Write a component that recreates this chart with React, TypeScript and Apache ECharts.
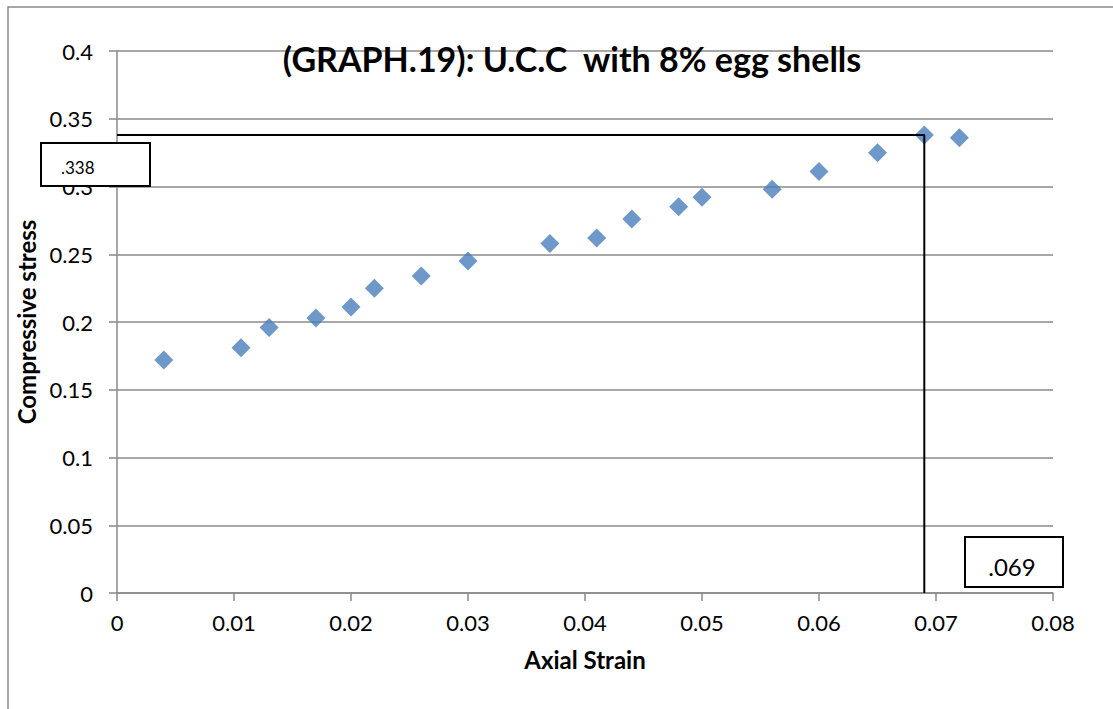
import React, { useEffect, useRef } from "react";
import * as echarts from "echarts";

const strain = [0.004, 0.0106, 0.013, 0.017, 0.02, 0.022, 0.026, 0.03, 0.037, 0.041, 0.044, 0.048, 0.05, 0.056, 0.06, 0.065, 0.069, 0.072];
const stress = [0.172, 0.181, 0.196, 0.203, 0.211, 0.225, 0.234, 0.245, 0.258, 0.262, 0.276, 0.285, 0.292, 0.298, 0.311, 0.325, 0.338, 0.336];
const peakStrain = 0.069;
const peakStress = 0.338;
const guideX = [0, peakStrain, peakStrain];
const guideY = [peakStress, peakStress, 0];
const titleText = "(GRAPH.19): U.C.C  with 8% egg shells";
const xName = "Axial Strain";
const yName = "Compressive stress";
const peakStressLabel = ".338";
const peakStrainLabel = ".069";

const FONT = "Lato, 'Open Sans', sans-serif";
const GRAY = "#8a8a8a";

export default function App() {
  const ref = useRef<HTMLDivElement>(null);
  useEffect(() => {
    if (!ref.current) return;
    const chart = echarts.init(ref.current, undefined, { renderer: "svg" });
    chart.setOption({
      animation: false,
      backgroundColor: "#ffffff",
      textStyle: { fontFamily: FONT },
      grid: { left: 117, right: 60, top: 51, bottom: 116 },
      xAxis: {
        type: "value",
        min: 0,
        max: 0.08,
        interval: 0.01,
        name: xName,
        nameLocation: "middle",
        nameGap: 54,
        nameTextStyle: { fontFamily: FONT, fontWeight: "bold", fontSize: 24, color: "#000" },
        axisLine: { show: true, lineStyle: { color: GRAY, width: 1.5 } },
        axisTick: { show: true, inside: false, length: 8, lineStyle: { color: GRAY, width: 1.5 } },
        axisLabel: { margin: 18, fontSize: 22, color: "#000", fontFamily: FONT },
        splitLine: { show: false },
      },
      yAxis: {
        type: "value",
        min: 0,
        max: 0.4,
        interval: 0.05,
        name: yName,
        nameLocation: "middle",
        nameGap: 72,
        nameRotate: 90,
        nameTextStyle: { fontFamily: FONT, fontWeight: "bold", fontSize: 24, color: "#000" },
        axisLine: { show: true, lineStyle: { color: GRAY, width: 1.5 } },
        axisTick: { show: true, inside: false, length: 8, lineStyle: { color: GRAY, width: 1.5 } },
        axisLabel: { margin: 24, fontSize: 22, color: "#000", fontFamily: FONT },
        splitLine: { show: true, lineStyle: { color: GRAY, width: 1.5 } },
      },
      series: [
        {
          type: "scatter",
          data: strain.map((x, i) => [x, stress[i]]),
          symbol: "diamond",
          symbolSize: 19,
          itemStyle: { color: "#4A7EBB" },
          z: 3,
        },
        {
          type: "line",
          data: guideX.map((x, i) => [x, guideY[i]]),
          symbol: "none",
          lineStyle: { color: "#000", width: 2 },
          z: 4,
        },
      ],
      graphic: [
        {
          type: "rect",
          z: 0,
          silent: true,
          shape: { x: 8, y: 7, width: 1300, height: 900 },
          style: { fill: "none", stroke: "#8a8a8a", lineWidth: 1.5 },
        },
        {
          type: "text",
          z: 100,
          x: 572,
          y: 58,
          style: {
            text: titleText,
            fontFamily: FONT,
            fontWeight: "bold",
            fontSize: 34,
            fill: "#000",
            align: "center",
            verticalAlign: "middle",
          },
        },
        {
          type: "rect",
          z: 100,
          shape: { x: 41, y: 143, width: 109, height: 43 },
          style: { fill: "#fff", stroke: "#000", lineWidth: 2 },
        },
        {
          type: "text",
          z: 101,
          x: 61,
          y: 167,
          style: {
            text: peakStressLabel,
            fontFamily: FONT,
            fontSize: 17,
            fill: "#000",
            align: "left",
            verticalAlign: "middle",
          },
        },
        {
          type: "rect",
          z: 100,
          shape: { x: 965, y: 537, width: 98, height: 50 },
          style: { fill: "#fff", stroke: "#000", lineWidth: 2 },
        },
        {
          type: "text",
          z: 101,
          x: 1012,
          y: 566,
          style: {
            text: peakStrainLabel,
            fontFamily: FONT,
            fontSize: 24,
            fill: "#000",
            align: "center",
            verticalAlign: "middle",
          },
        },
      ],
    });
    return () => chart.dispose();
  }, []);
  return (
    <div
      ref={ref}
      style={{ position: "absolute", left: 0, top: 0, width: 1113, height: 709 }}
    />
  );
}
